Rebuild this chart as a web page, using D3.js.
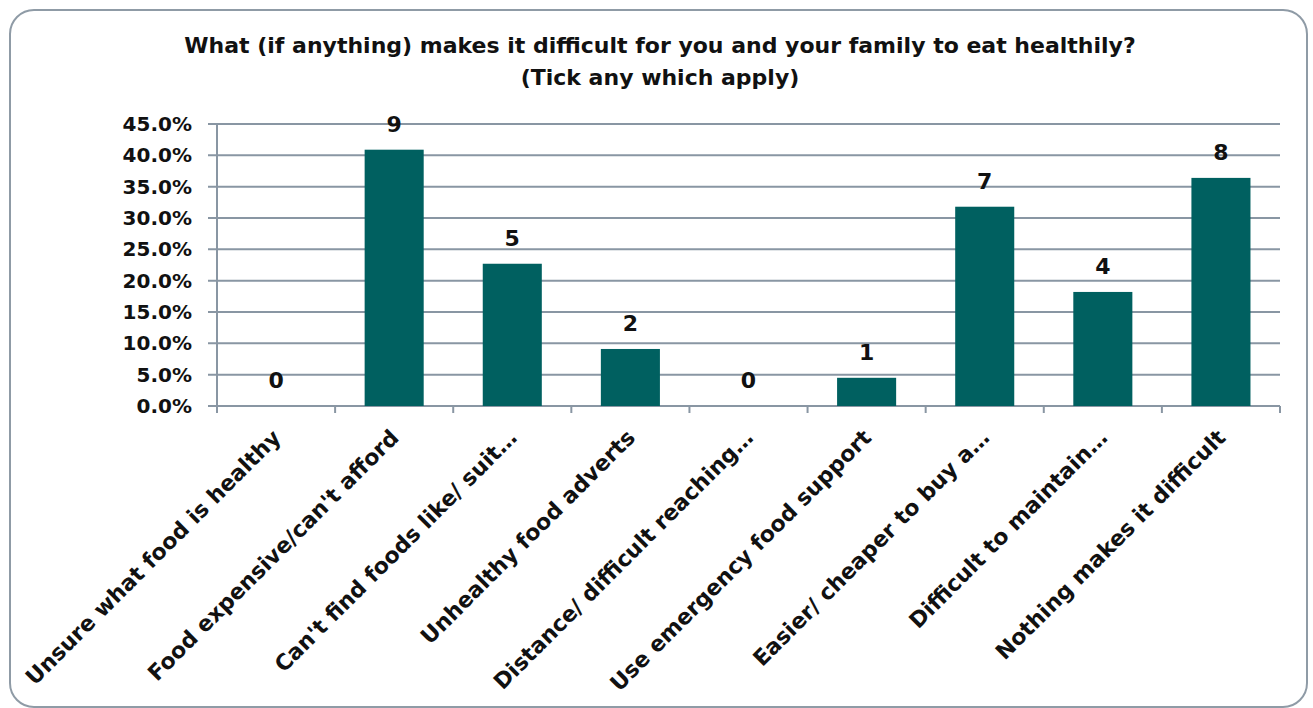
<!DOCTYPE html>
<html><head><meta charset="utf-8">
<script src="https://cdn.jsdelivr.net/npm/d3@7"></script>
<style>body{margin:0;background:#fff;}svg{display:block;font-family:"DejaVu Sans",Verdana,sans-serif;font-weight:bold;}</style>
</head><body>
<svg id="c" width="1313" height="708"></svg>
<script>
const categories = ["Unsure what food is healthy","Food expensive/can't afford","Can't find foods like/ suit…","Unhealthy food adverts","Distance/ difficult reaching…","Use emergency food support","Easier/ cheaper to buy a…","Difficult to maintain…","Nothing makes it difficult"];
const percents = [0, 40.9, 22.7, 9.1, 0, 4.5, 31.8, 18.2, 36.4];
const counts = [0, 9, 5, 2, 0, 1, 7, 4, 8];
const yTicks = [0,5,10,15,20,25,30,35,40,45];
const titleLines = ["What (if anything) makes it difficult for you and your family to eat healthily?","(Tick any which apply)"];

const svg = d3.select("#c");
const grid = "#8996a3";
svg.append("rect").attr("x",10).attr("y",10).attr("width",1297).attr("height",697).attr("rx",24)
  .attr("fill","#fff").attr("stroke","#8f9ba6").attr("stroke-width",2);

const x = d3.scaleBand().domain(categories).range([217,1280]).paddingInner(0).paddingOuter(0);
const y = d3.scaleLinear().domain([0,45]).range([406,124]);

svg.selectAll(".title").data(titleLines).join("text")
  .attr("x",660).attr("y",(d,i)=>53+i*32).attr("text-anchor","middle")
  .attr("font-size",22).attr("fill","#111").text(d=>d);

// gridlines
svg.append("g").selectAll("line").data(yTicks).join("line")
  .attr("x1",208).attr("x2",1280).attr("y1",d=>y(d)).attr("y2",d=>y(d))
  .attr("stroke",grid).attr("stroke-width",2);
// y axis
svg.append("line").attr("x1",217).attr("x2",217).attr("y1",124).attr("y2",412).attr("stroke",grid).attr("stroke-width",2);
// x ticks
const bounds = categories.map(c=>x(c)).concat([1280]);
svg.append("g").selectAll("line").data(bounds).join("line")
  .attr("x1",d=>d).attr("x2",d=>d).attr("y1",406).attr("y2",413).attr("stroke",grid).attr("stroke-width",2);

svg.append("g").selectAll("text").data(yTicks).join("text")
  .attr("x",192).attr("y",d=>y(d)+7).attr("text-anchor","end").attr("font-size",20).attr("fill","#111")
  .text(d=>d.toFixed(1)+"%");

const bw = x.bandwidth()*0.5;
svg.append("g").selectAll("rect").data(categories).join("rect")
  .attr("x",d=>x(d)+x.bandwidth()/2-bw/2).attr("width",bw)
  .attr("y",(d,i)=>y(percents[i])).attr("height",(d,i)=>y(0)-y(percents[i]))
  .attr("fill","#006060");

svg.append("g").selectAll("text").data(categories).join("text")
  .attr("x",d=>x(d)+x.bandwidth()/2).attr("y",(d,i)=>y(percents[i])-18)
  .attr("text-anchor","middle").attr("font-size",22).attr("fill","#111").text((d,i)=>counts[i]);

svg.append("g").selectAll("text").data(categories).join("text")
  .attr("transform",d=>`translate(${x(d)+x.bandwidth()/2+6},${439}) rotate(-45)`)
  .attr("text-anchor","end").attr("font-size",22).attr("fill","#111").text(d=>d);
</script>
</body></html>
